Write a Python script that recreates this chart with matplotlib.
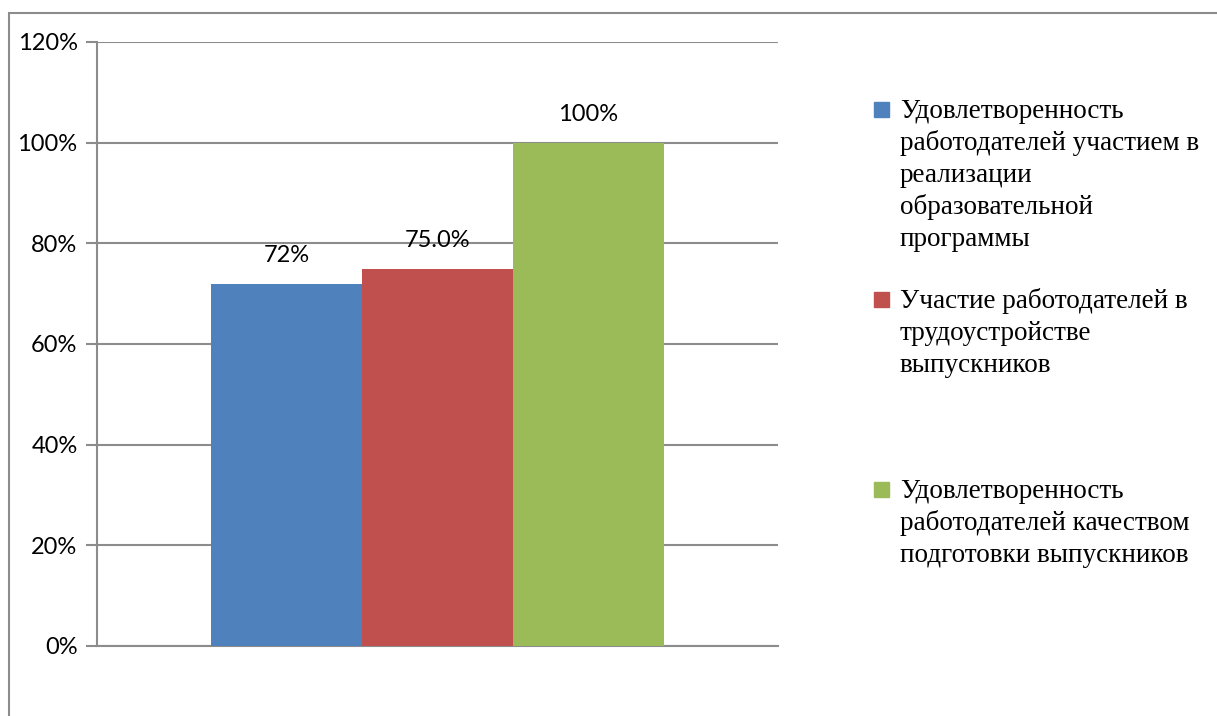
import matplotlib.pyplot as plt
from matplotlib.patches import Rectangle
from matplotlib.ticker import FuncFormatter

# data
series_labels = ['Удовлетворенность\nработодателей участием в\nреализации\nобразовательной\nпрограммы',
                 'Участие работодателей в\nтрудоустройстве\nвыпускников',
                 'Удовлетворенность\nработодателей качеством\nподготовки выпускников']
values = [72, 75, 100]
value_labels = ['72%', '75.0%', '100%']
colors = ['#4F81BD', '#C0504D', '#9BBB59']
yticks = [0, 20, 40, 60, 80, 100, 120]

W, H = 1217, 716
fig = plt.figure(figsize=(W / 100, H / 100), dpi=100)
ax = fig.add_axes([97 / W, 70 / H, 681 / W, 604 / H])

# outer chart frame
fig.patches.append(Rectangle((9 / W, -0.1), 1.2, (H - 13) / H + 0.1, transform=fig.transFigure,
                             fill=False, edgecolor='#8c8c8c', linewidth=1.5))

bar_w = 151 / 681
for i, (v, c, lab) in enumerate(zip(values, colors, value_labels)):
    x = (i - 1) * bar_w
    ax.bar(x, v, width=bar_w, color=c, zorder=3)
    ax.annotate(lab, (x, v), xytext=(0, 20), textcoords='offset points',
                ha='center', va='center', fontsize=17, family='Lato', color='black')

ax.set_xlim(-0.5, 0.5)
ax.set_ylim(0, 120)
ax.set_yticks(yticks)
ax.yaxis.set_major_formatter(FuncFormatter(lambda v, p: f'{int(v)}%'))
ax.grid(axis='y', color='#8c8c8c', linewidth=1.5, zorder=0)
ax.set_xticks([])
for s in ['top', 'right']:
    ax.spines[s].set_visible(False)
for s in ['left', 'bottom']:
    ax.spines[s].set_color('#8c8c8c')
    ax.spines[s].set_linewidth(1.5)
ax.tick_params(axis='y', length=8, width=1.5, color='#8c8c8c', pad=6, labelsize=17)
for t in ax.get_yticklabels():
    t.set_family('Lato')

# legend drawn by hand to keep Excel-like spacing
legend_baseline = [118, 308, 498]
line_step = 32
for lab, c, yb in zip(series_labels, colors, legend_baseline):
    fig.patches.append(Rectangle((874 / W, 1 - (yb - 1) / H), 15 / W, 15 / H,
                                 transform=fig.transFigure, color=c))
    for k, line in enumerate(lab.split('\n')):
        fig.text(900 / W, 1 - (yb + k * line_step) / H, line, ha='left', va='baseline',
                 fontsize=19.5, family='Liberation Serif')

fig.savefig('out.png', dpi=100)
